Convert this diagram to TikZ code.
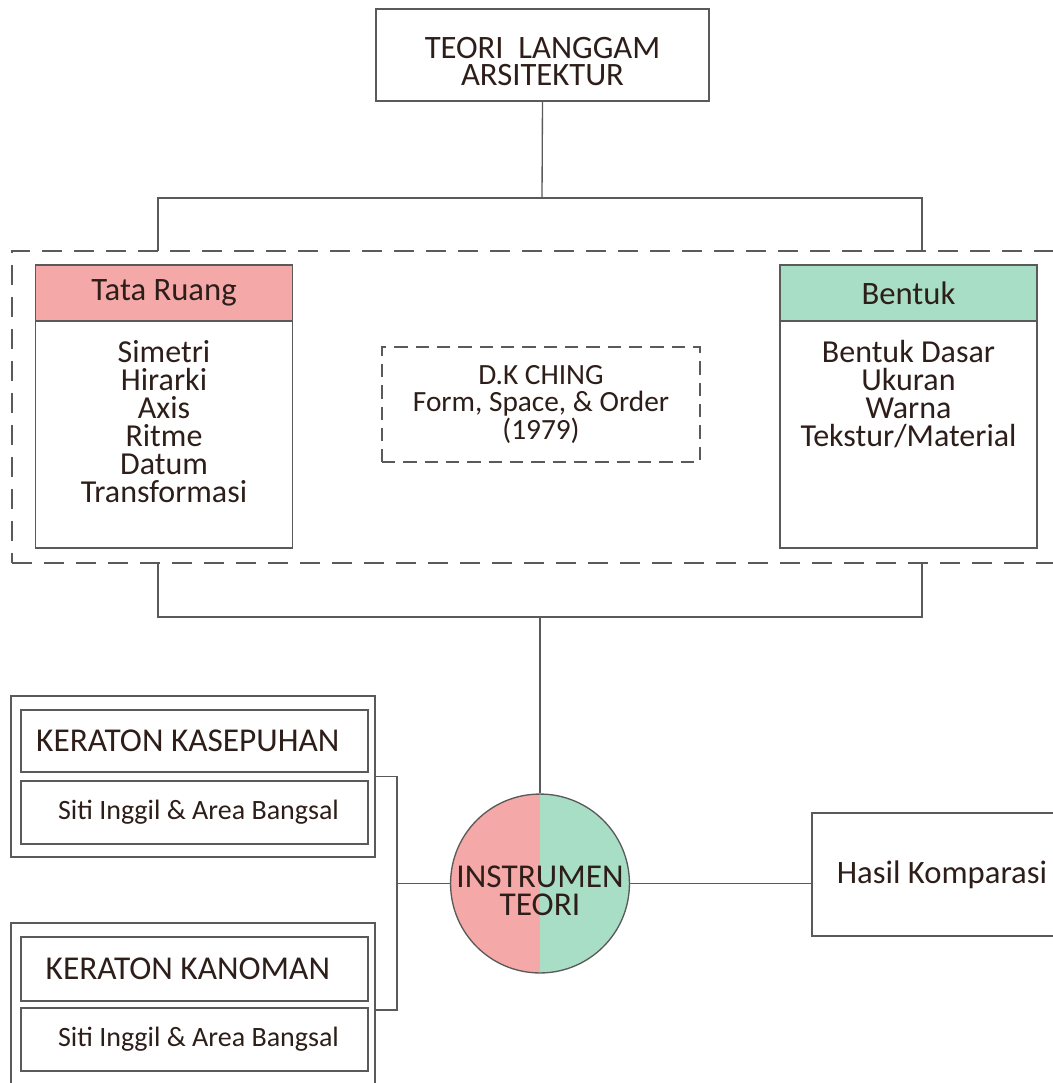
\documentclass[tikz,border=0pt]{standalone}
\usepackage{fontspec}
\setmainfont{Carlito}
\usetikzlibrary{positioning}
\definecolor{ruangpink}{RGB}{245,168,168}
\definecolor{bentukgreen}{RGB}{168,222,198}
\definecolor{linegray}{RGB}{90,90,90}
\definecolor{inkbrown}{RGB}{45,30,25}

\begin{document}
\begin{tikzpicture}[x=0.75pt,y=0.75pt,yscale=-1,
    box/.style={draw=linegray, line width=1pt, rectangle, inner sep=0pt, align=center, text=inkbrown, font=\fontsize{24.5}{20.5}\selectfont},
    list/.style={align=center, inner sep=0pt, text=inkbrown, font=\fontsize{24}{21}\selectfont},
    dashbox/.style={box, dash pattern=on 10pt off 6pt},
    conn/.style={draw=linegray, line width=1pt}]

    \useasboundingbox (0,0) rectangle (1053,1083);

    % header and the dashed group
    \draw (542.5,55) node [box, minimum width=333*0.75pt, minimum height=92*0.75pt] (top) {\rule{0pt}{26pt}TEORI~~LANGGAM\\ARSITEKTUR};
    \draw (538.5,407) node [box, dash pattern=on 15pt off 9pt, minimum width=1053*0.75pt, minimum height=312*0.75pt] (frame) {};

    \draw (164,406.5) node [box, minimum width=257*0.75pt, minimum height=283*0.75pt] (tata) {};
    \draw (164,293) node [box, fill=ruangpink, minimum width=257*0.75pt, minimum height=56*0.75pt] (tatahead) {Tata Ruang};
    \draw (164,422) node [list] (tatalist) {Simetri\\Hirarki\\Axis\\Ritme\\Datum\\Transformasi};

    \draw (908.5,406.5) node [box, minimum width=257*0.75pt, minimum height=283*0.75pt] (bentuk) {};
    \draw (908.5,293) node [box, fill=bentukgreen, minimum width=257*0.75pt, minimum height=56*0.75pt] (bentukhead) {Bentuk};
    \draw (908.5,394) node [list] (bentuklist) {Bentuk Dasar\\Ukuran\\Warna\\Tekstur/Material};

    \draw (541,404.5) node [dashbox, font=\fontsize{22}{20.5}\selectfont, minimum width=318*0.75pt, minimum height=115*0.75pt] (ching) {D.K CHING\\Form, Space, \& Order\\(1979)};

    % instrument and result
    \draw (540,883.5) node [box, circle, minimum size=177*0.75pt, font=\fontsize{25}{21.5}\selectfont,
        path picture={\fill[ruangpink] (path picture bounding box.south west) rectangle (path picture bounding box.north);
                      \fill[bentukgreen] (path picture bounding box.south) rectangle (path picture bounding box.north east);}] (instr) {\rule{0pt}{27pt}INSTRUMEN\\TEORI};
    \draw (942,874.5) node [box, minimum width=260*0.75pt, minimum height=123*0.75pt] (hasil) {Hasil Komparasi};

    % keraton boxes
    \draw (193,776.5) node [box, minimum width=364*0.75pt, minimum height=161*0.75pt] (outer1) {};
    \draw (194.5,741) node [box, font=\fontsize{25}{21}\selectfont, minimum width=347*0.75pt, minimum height=62*0.75pt] (kasepuhan) {KERATON KASEPUHAN\hspace{10pt}};
    \draw (194.5,812.5) node [box, font=\fontsize{21}{20}\selectfont, minimum width=347*0.75pt, minimum height=63*0.75pt] (siti1) {\hspace{6pt}Siti Inggil \& Area Bangsal};
    \draw (193,1010) node [box, minimum width=364*0.75pt, minimum height=174*0.75pt] (outer2) {};
    \draw (194.5,969) node [box, font=\fontsize{25}{21}\selectfont, minimum width=347*0.75pt, minimum height=64*0.75pt] (kanoman) {KERATON KANOMAN\hspace{10pt}};
    \draw (194.5,1039.5) node [box, font=\fontsize{21}{20}\selectfont, minimum width=347*0.75pt, minimum height=63*0.75pt] (siti2) {\hspace{6pt}Siti Inggil \& Area Bangsal};

    % connectors
    \coordinate (hubtop) at (542,198);
    \coordinate (tickL) at (158,251);
    \coordinate (tickR) at (922,251);
    \draw [conn] (top.south) -- (hubtop);
    \draw [conn] (tickL) |- (hubtop) -| (tickR);

    \coordinate (hubbot) at (540,617);
    \coordinate (tickBL) at (158,563);
    \coordinate (tickBR) at (922,563);
    \draw [conn] (tickBL) |- (hubbot) -| (tickBR);
    \draw [conn] (hubbot) -- (instr.north);

    \coordinate (brk) at (397,883.5);
    \draw [conn] (outer1.east) -| (brk) |- (outer2.east);
    \draw [conn] (brk) -- (instr.west);
    \draw [conn] (instr.east) -- (instr.east -| hasil.west);

\end{tikzpicture}
\end{document}
